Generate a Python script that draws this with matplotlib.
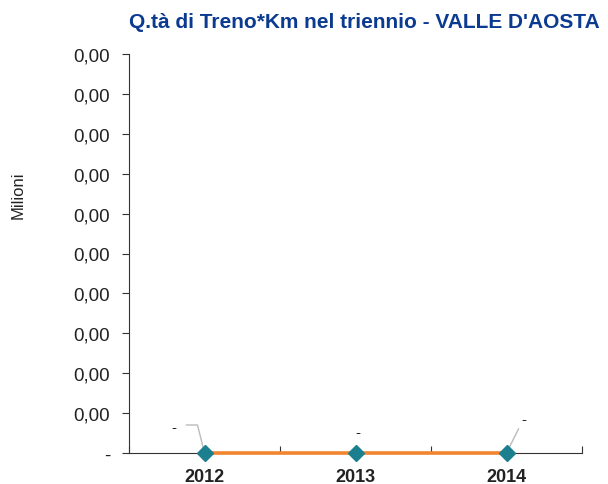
import matplotlib
matplotlib.use("Agg")
import matplotlib.pyplot as plt
import matplotlib.transforms as mtransforms
import numpy as np

years = ["2012", "2013", "2014"]
values = [0.0, 0.0, 0.0]
point_labels = ["-", "-", "-"]
ytick_vals = [0, 1, 2, 3, 4, 5, 6, 7, 8, 9, 10]
ytick_labels = ["-"] + ["0,00"] * 10
title = "Q.tà di Treno*Km nel triennio - VALLE D'AOSTA"
ylabel = "Milioni"

plt.rcParams['font.family'] = ['Liberation Sans', 'DejaVu Sans']

fig = plt.figure(figsize=(6.08, 4.85), dpi=100)
ax = fig.add_axes([129/608, 1-454/485, (582-129)/608, (454-55)/485])

x = np.arange(len(years))
ax.plot(x, values, color='#F28530', lw=2.6, zorder=3, solid_capstyle='butt', clip_on=False)
ax.plot(x, values, linestyle='none', marker='D', markersize=8.5,
        color='#1B7F8F', zorder=4, clip_on=False)

ax.set_xlim(-0.5, 2.5)
ax.set_ylim(0, 10)
ax.set_yticks(ytick_vals)
ax.set_yticklabels(ytick_labels, fontsize=13.5, color='#222222')
ax.set_xticks([-0.5, 0.5, 1.5, 2.5])
ax.set_xticklabels([])
ax.set_xticks(x, minor=True)
ax.set_xticklabels(years, minor=True, fontsize=13, fontweight='bold', color='#222222')
ax.tick_params(axis='x', which='minor', length=0, pad=10.5)
ax.tick_params(axis='x', which='major', length=5, direction='in', color='#333333')
ax.tick_params(axis='y', length=5, direction='out', pad=8.5, color='#333333')
for s in ['top', 'right']:
    ax.spines[s].set_visible(False)
ax.spines['left'].set_color('#333333')
ax.spines['bottom'].set_color('#333333')
ax.spines['bottom'].set_zorder(2)

# data labels (pixel offsets from point, y up) and leader lines
label_offsets = [(-31, 26), (2, 21), (17, 34)]
leaders = [[(-18, 28), (-7, 28), (-1, 4)], None, [(12, 24), (2, 4)]]
for xi, v, lab, off, ld in zip(x, values, point_labels, label_offsets, leaders):
    tr = mtransforms.offset_copy(ax.transData, fig=fig, x=off[0], y=off[1], units='dots')
    ax.text(xi, v, lab, transform=tr, ha='center', va='center', fontsize=11,
            color='#222222', clip_on=False)
    if ld is not None:
        base = ax.transData.transform((xi, v))
        pts = [ax.transData.inverted().transform((base[0] + dx, base[1] + dy)) for dx, dy in ld]
        ax.plot([p[0] for p in pts], [p[1] for p in pts], color='#BBBBBB', lw=1,
                clip_on=False, zorder=2.5)

fig.text(600/608, 1-22/485, title, ha='right', va='center', fontsize=15,
         fontweight='bold', color='#0B3A91')
fig.text(18/608, 1-195/485, ylabel, rotation=90, ha='center', va='center',
         fontsize=12, color='#222222')

fig.savefig("out.png", dpi=100)
